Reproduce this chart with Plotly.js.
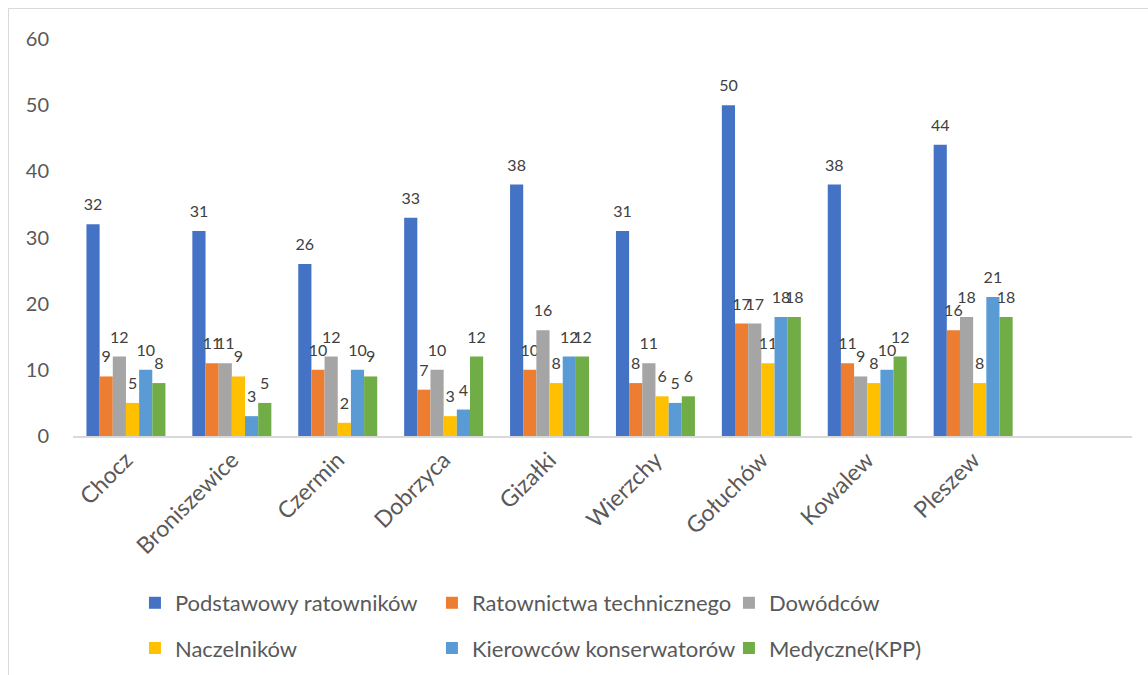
<!DOCTYPE html>
<html>
<head>
<meta charset="utf-8">
<script src="https://cdn.plot.ly/plotly-3.0.1.min.js"></script>
<style>
  html, body { margin: 0; padding: 0; background: #fff; }
  #wrap { position: relative; width: 1148px; height: 675px; overflow: hidden; }
  #chart { position: absolute; left: 0; top: 0; width: 1148px; height: 675px; }
  #frame { position: absolute; left: 8px; top: 8px; width: 1200px; height: 700px;
           border-left: 1.5px solid #d9d9d9; border-top: 1.5px solid #d9d9d9; pointer-events: none; }
</style>
</head>
<body>
<div id="wrap">
  <div id="chart"></div>
  <div id="frame"></div>
</div>
<script>
const categories = ["Chocz", "Broniszewice", "Czermin", "Dobrzyca", "Gizałki", "Wierzchy", "Gołuchów", "Kowalew", "Pleszew"];
const seriesNames = ["Podstawowy ratowników", "Ratownictwa technicznego", "Dowódców", "Naczelników", "Kierowców konserwatorów", "Medyczne(KPP)"];
const podstawowy = [32, 31, 26, 33, 38, 31, 50, 38, 44];
const ratownictwa = [9, 11, 10, 7, 10, 8, 17, 11, 16];
const dowodcow = [12, 11, 12, 10, 16, 11, 17, 9, 18];
const naczelnikow = [5, 9, 2, 3, 8, 6, 11, 8, 8];
const kierowcow = [10, 3, 10, 4, 12, 5, 18, 10, 21];
const medyczne = [8, 5, 9, 12, 12, 6, 18, 12, 18];
const yTicks = [0, 10, 20, 30, 40, 50, 60];

const seriesValues = [podstawowy, ratownictwa, dowodcow, naczelnikow, kierowcow, medyczne];
const colors = ["#4472C4", "#ED7D31", "#A5A5A5", "#FFC000", "#5B9BD5", "#70AD47"];
const FONT = "Lato, 'Open Sans', sans-serif";
const PAD = '<span style="font-size:52px">\u00A0</span>';

const traces = seriesValues.map((vals, i) => ({
  type: "bar",
  name: seriesNames[i],
  x: categories,
  y: vals,
  marker: { color: colors[i] },
  text: vals.map(String),
  textposition: "outside",
  texttemplate: PAD + "%{text}" + PAD,
  cliponaxis: false,
  constraintext: "none",
  textfont: { family: FONT, size: 16, color: "#404040" },
  legend: i < 3 ? "legend" : "legend2",
  hoverinfo: "x+y+name"
}));

const legendCommon = {
  orientation: "h",
  xanchor: "left",
  yanchor: "middle",
  x: 0.0585,
  font: { family: FONT, size: 22, color: "#595959" },
  entrywidthmode: "pixels",
  entrywidth: 252,
  itemclick: false,
  itemdoubleclick: false,
  bgcolor: "rgba(0,0,0,0)",
  traceorder: "normal"
};

const layout = {
  width: 1148,
  height: 675,
  margin: { l: 73, r: 16, t: 39, b: 239, autoexpand: false },
  paper_bgcolor: "#ffffff",
  plot_bgcolor: "#ffffff",
  barmode: "group",
  bargap: 0.254,
  bargroupgap: 0,
  font: { family: FONT, color: "#595959" },
  showlegend: true,
  legend: Object.assign({}, legendCommon, { y: -0.4206 }),
  legend2: Object.assign({}, legendCommon, { y: -0.5345 }),
  xaxis: {
    type: "category",
    range: [-0.5, 9.5],
    tickangle: -45,
    tickfont: { family: FONT, size: 23, color: "#595959" },
    showline: true,
    linecolor: "#d9d9d9",
    linewidth: 1.5,
    ticks: "",
    showgrid: false,
    zeroline: false,
    automargin: false,
    fixedrange: true
  },
  yaxis: {
    range: [0, 60],
    tickvals: yTicks,
    ticktext: yTicks.map(String),
    tickfont: { family: FONT, size: 20, color: "#595959" },
    showgrid: false,
    zeroline: false,
    showline: false,
    ticks: "",
    ticklabelstandoff: 23,
    automargin: false,
    fixedrange: true
  }
};

Plotly.newPlot("chart", traces, layout, { displayModeBar: false, staticPlot: true });
</script>
</body>
</html>
